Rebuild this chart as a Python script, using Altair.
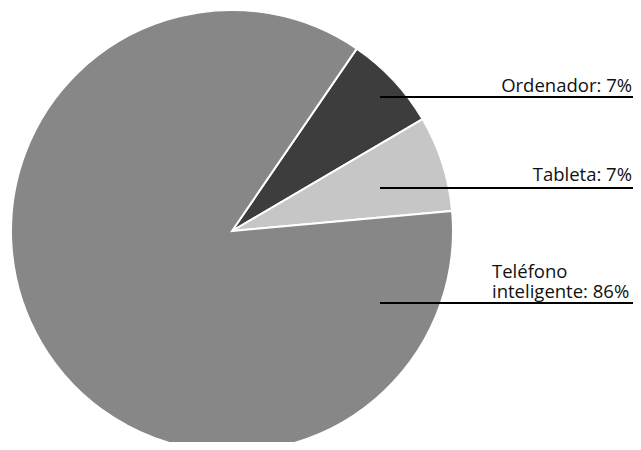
import math
import altair as alt
import pandas as pd

# --- data ---
categories = ["Ordenador", "Tableta", "Teléfono inteligente"]
shares = [7, 7, 86]
label_texts = ["Ordenador: 7%", "Tableta: 7%", "Teléfono\ninteligente: 86%"]

# --- styling / layout (pixel positions inside the view) ---
colors = ["#3d3d3d", "#c6c6c6", "#878787"]
start_angle = 0.6
pie_cx, pie_cy, pie_r = 224, 223, 221
rule_x0, rule_x1 = 372, 640
rule_y = [89, 180, 295]
label_x = [624, 624, 484]
label_y = [84, 173, 270]
label_align = ["right", "right", "left"]

W, H = 625, 434

pie_df = pd.DataFrame({"category": categories, "share": shares,
                       "order": list(range(len(categories)))})
ann_df = pd.DataFrame({
    "category": categories,
    "label": label_texts,
    "x0": [rule_x0] * 3, "x1": [rule_x1] * 3, "ry": rule_y,
    "lx": label_x, "ly": label_y, "align": label_align,
})

pie = alt.Chart(pie_df).mark_arc(
    outerRadius=pie_r, stroke="white", strokeWidth=2
).encode(
    theta=alt.Theta("share:Q", stack=True,
                    scale=alt.Scale(range=[start_angle, start_angle + 2 * math.pi])),
    color=alt.Color("category:N",
                    scale=alt.Scale(domain=categories, range=colors), legend=None),
    order=alt.Order("order:Q"),
    x=alt.value(pie_cx),
    y=alt.value(pie_cy),
)

rules = alt.Chart(ann_df).mark_rule(color="black", strokeWidth=2).encode(
    x=alt.X("x0:Q", scale=None),
    x2="x1:Q",
    y=alt.Y("ry:Q", scale=None),
)

text_style = dict(font="Open Sans", fontSize=18.5, color="#111111",
                  baseline="alphabetic", lineBreak="\n", lineHeight=20)

labels_right = alt.Chart(ann_df).transform_filter(
    alt.datum.align == "right"
).mark_text(align="right", **text_style).encode(
    x=alt.X("lx:Q", scale=None),
    y=alt.Y("ly:Q", scale=None),
    text="label:N",
)

labels_left = alt.Chart(ann_df).transform_filter(
    alt.datum.align == "left"
).mark_text(align="left", **text_style).encode(
    x=alt.X("lx:Q", scale=None),
    y=alt.Y("ly:Q", scale=None),
    text="label:N",
)

chart = alt.layer(pie, rules, labels_right, labels_left).properties(
    width=W, height=H, padding=0, autosize=alt.AutoSizeParams(type="none")
).configure_view(stroke=None)

chart.save("out.html", embed_options={"renderer": "svg", "actions": False})
